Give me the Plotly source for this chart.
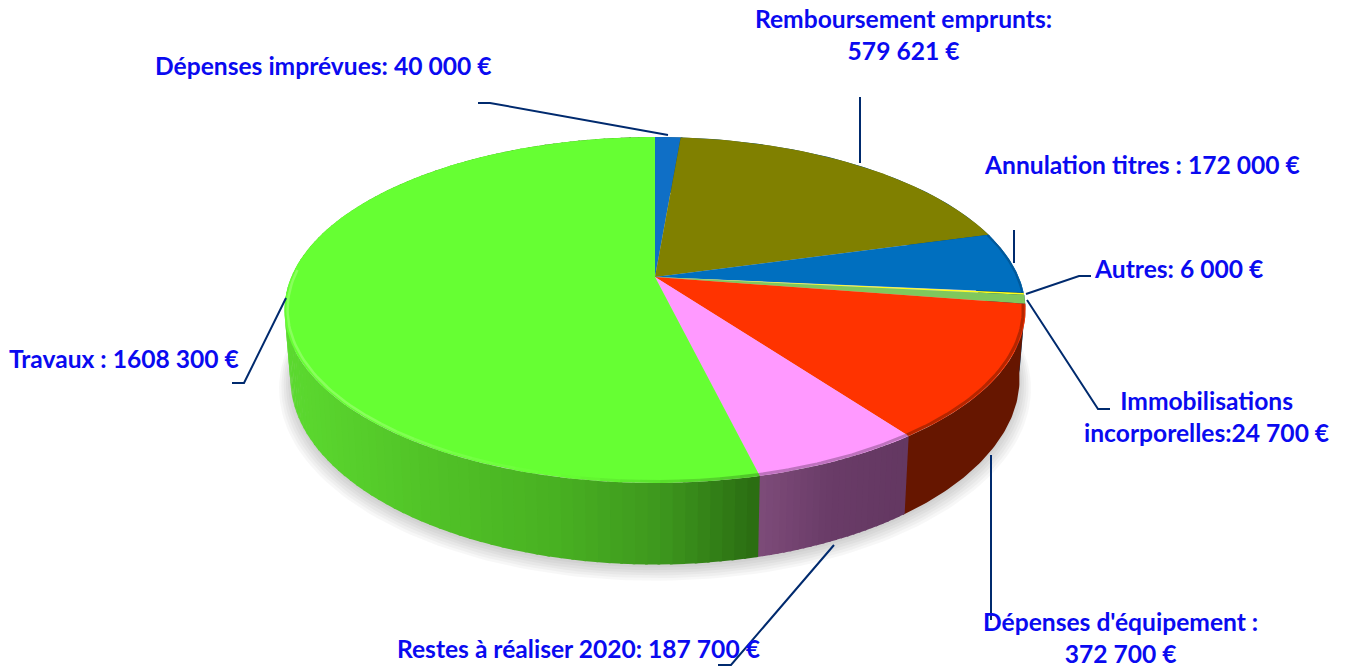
import numpy as np
import plotly.graph_objects as go

# --- data (clockwise from 12 o'clock) ---
categories = ["Dépenses imprévues", "Remboursement emprunts", "Annulation titres", "Autres",
              "Immobilisations incorporelles", "Dépenses d'équipement",
              "Restes à réaliser 2020", "Travaux"]
values = [40000, 579621, 172000, 6000, 24700, 372700, 187700, 1608300]
top_colors = ["#0F6FC6", "#808000", "#006FBF", "#FFFF19", "#7FC85C", "#FF3300", "#FF99FF", "#66FF33"]
labels = ["Dépenses imprévues: 40 000 €", "Remboursement emprunts:<br>579 621 €",
          "Annulation titres : 172 000 €", "Autres: 6 000 €",
          "Immobilisations<br>incorporelles:24 700 €", "Dépenses d'équipement :<br>372 700 €",
          "Restes à réaliser 2020: 187 700 €", "Travaux : 1608 300 €"]
label_x = [323, 903, 1142, 1178, 1206, 1120, 578, 124]
label_y = [65, 34.5, 164, 268, 416, 637, 648, 358]
leaders = [[(478, 103), (490, 103), (668, 135)],
           [(860, 97), (860, 163)],
           [(1014, 230), (1014, 263)],
           [(1026, 294), (1079, 276), (1091, 276)],
           [(1027, 300), (1098, 409), (1110, 409)],
           [(991, 455), (991, 620)],
           [(834, 545), (731, 665), (718, 665)],
           [(286, 298), (244, 383), (232, 383)]]

# --- perspective projection of the disc ---
CX, CY, A, B, K, H, SHRINK = 655.0, 277.0, 363.7, 166.7, 0.1907, 66.0, 0.984


def project(theta, r=1.0, level=0.0, extra=0.0):
    """theta: clockwise radians from the back of the disc; level 0=top, 1=bottom."""
    X, Y = r * np.sin(theta), r * np.cos(theta)
    d = 1 + K * Y
    sx = 1 - (1 - SHRINK) * level
    return CX + sx * A * X / d, CY - B * Y / d + level * H / d + extra


frac = np.array(values) / sum(values)
edges = np.concatenate([[0], np.cumsum(frac)]) * 2 * np.pi

fig = go.Figure()


def poly(x, y, color, name=""):
    fig.add_trace(go.Scatter(x=list(x), y=list(y), mode="lines", fill="toself", fillcolor=color,
                             line=dict(width=0, color=color), hoverinfo="skip", name=name, showlegend=False))


def rim(t0, t1, color, width, r=1.0, extra=0.0):
    t = np.linspace(t0, t1, 40)
    x, y = project(t, r=r, extra=extra)
    fig.add_trace(go.Scatter(x=x, y=y, mode="lines", line=dict(color=color, width=width),
                             hoverinfo="skip", showlegend=False))


def faded_rim(t0, t1, rgb, a0, a1, width, r, steps=10):
    ts = np.linspace(t0, t1, steps + 1)
    for j in range(steps):
        a = a0 + (a1 - a0) * (j + 0.5) / steps
        rim(ts[j], ts[j + 1], "rgba(%d,%d,%d,%.3f)" % (*rgb, a), width, r=r)


# soft shadow under the disc
full = np.linspace(0, 2 * np.pi, 240)
for r, e in [(1.030, 8), (1.024, 7), (1.018, 6), (1.012, 5), (1.006, 4), (1.0, 3)]:
    x, y = project(full, r=r, level=1.0, extra=e)
    poly(x, y, "rgba(0,0,0,0.03)", "shadow")


def mix(stops, u):
    us = [s[0] for s in stops]
    return "rgb(%d,%d,%d)" % tuple(np.interp(u, us, [s[1][i] for s in stops]) for i in range(3))


# side wall: shade follows horizontal position
green_stops = [(285, (92, 218, 48)), (420, (82, 196, 40)), (560, (72, 176, 34)),
               (660, (62, 152, 30)), (758, (42, 108, 18))]
pink_stops = [(758, (126, 76, 122)), (830, (106, 60, 104)), (905, (100, 56, 98))]
red_stops = [(900, (102, 22, 0)), (1030, (102, 22, 0))]
blue_stops = [(0, (0, 70, 120)), (1347, (0, 70, 120))]
wall = {7: (green_stops, 120), 6: (pink_stops, 24), 5: (red_stops, 1)}
for i in range(len(values)):
    stops, n = wall.get(i, (blue_stops, 1))
    ts = np.linspace(edges[i], edges[i + 1], n + 1)
    for t0, t1 in zip(ts[:-1], ts[1:]):
        seg = np.linspace(t0, min(t1 + 0.006, edges[-1]), 4 if n > 1 else 60)
        xt, yt = project(seg)
        xb, yb = project(seg, level=1.0)
        poly(np.r_[xt, xb[::-1]], np.r_[yt, yb[::-1]], mix(stops, xt.mean()), categories[i] + " side")

# top face
for i in range(len(values)):
    t = np.linspace(edges[i], edges[i + 1], max(6, int(240 * frac[i])))
    x, y = project(t)
    poly(np.r_[CX, x], np.r_[CY, y], top_colors[i], categories[i])

# bevel along the front rim
faded_rim(edges[7] + 0.45, edges[7] + 1.0, (165, 255, 125), 0.0, 0.55, 2.5, 0.992)
rim(edges[7] + 1.0, edges[7] + 1.85, "rgba(165,255,125,0.55)", 2.5, r=0.992)
faded_rim(edges[7], edges[7] + 0.45, (45, 110, 25), 0.4, 0.0, 3, 0.994)
rim(edges[6], edges[7], "rgba(95,55,95,0.4)", 3, r=0.994)
rim(edges[5], edges[6], "rgba(110,25,0,0.5)", 3, r=0.994)
rim(edges[2], edges[3], "rgba(0,50,90,0.35)", 2, r=0.996)

# leader lines and labels
shapes = []
for pts in leaders:
    path = "M " + " L ".join(f"{px} {py}" for px, py in pts)
    shapes.append(dict(type="path", path=path, xref="x", yref="y", layer="above",
                       line=dict(color="#002A6E", width=2)))

annotations = [dict(x=x, y=y, text=f"<b>{t}</b>", showarrow=False, xref="x", yref="y",
                    xanchor="center", yanchor="middle", align="center",
                    font=dict(family="Lato, Carlito, sans-serif", size=24.6, color="#0A0AF0"))
               for x, y, t in zip(label_x, label_y, labels)]

fig.update_layout(
    width=1347, height=668, margin=dict(l=0, r=0, t=0, b=0),
    paper_bgcolor="white", plot_bgcolor="white", showlegend=False,
    xaxis=dict(range=[0, 1347], visible=False, fixedrange=True),
    yaxis=dict(range=[668, 0], visible=False, fixedrange=True),
    shapes=shapes, annotations=annotations,
)
fig.write_html("out.html", config={"displayModeBar": False},
               post_script="document.body.style.margin='0';document.body.style.overflow='hidden';")
